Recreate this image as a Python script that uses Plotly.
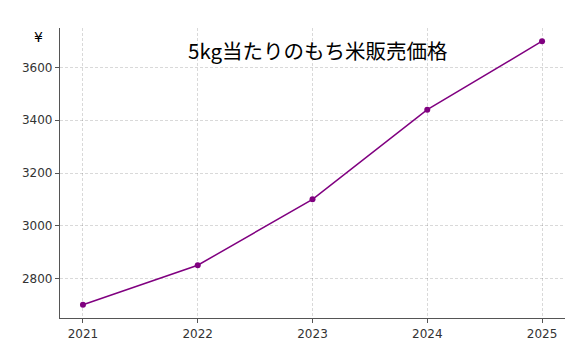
import plotly.graph_objects as go

years = [2021, 2022, 2023, 2024, 2025]
prices = [2700, 2850, 3100, 3440, 3700]
x_ticks = [2021, 2022, 2023, 2024, 2025]
x_labels = ["2021", "2022", "2023", "2024", "2025"]
y_ticks = [2800, 3000, 3200, 3400, 3600]

fig = go.Figure()
fig.add_trace(go.Scatter(
    x=years, y=prices, mode="lines+markers",
    line=dict(color="#800080", width=1.5),
    marker=dict(color="#800080", size=6),
    showlegend=False,
))

axis_common = dict(
    showgrid=True, gridcolor="rgba(0,0,0,0.15)", griddash="3px,2px", gridwidth=0.7,
    showline=True, linecolor="#555555", linewidth=1.2,
    ticks="outside", ticklen=4, tickcolor="#555555", tickwidth=1,
    tickfont=dict(family="DejaVu Sans", size=12, color="#333333"),
    zeroline=False, automargin=False,
)

# page body has an 8px margin, so the figure is sized to fit the 576x360 window
fig.update_layout(
    width=568, height=352,
    margin=dict(l=52, r=11, t=20, b=42),
    paper_bgcolor="white", plot_bgcolor="white",
    xaxis=dict(range=[2020.8, 2025.2], tickvals=x_ticks, ticktext=x_labels, **axis_common),
    yaxis=dict(range=[2650, 3750], tickvals=y_ticks, **axis_common),
    annotations=[
        dict(text="5kg当たりのもち米販売価格", xref="paper", yref="paper",
             x=0.511, y=0.924, xanchor="center", yanchor="middle", showarrow=False,
             font=dict(family="Noto Sans CJK JP", size=20.5, color="black")),
        dict(text="¥", xref="paper", yref="paper", x=-0.042, y=0.97,
             xanchor="center", yanchor="middle", showarrow=False,
             font=dict(family="DejaVu Sans", size=14, color="black")),
    ],
)

fig.write_html("out.html")
